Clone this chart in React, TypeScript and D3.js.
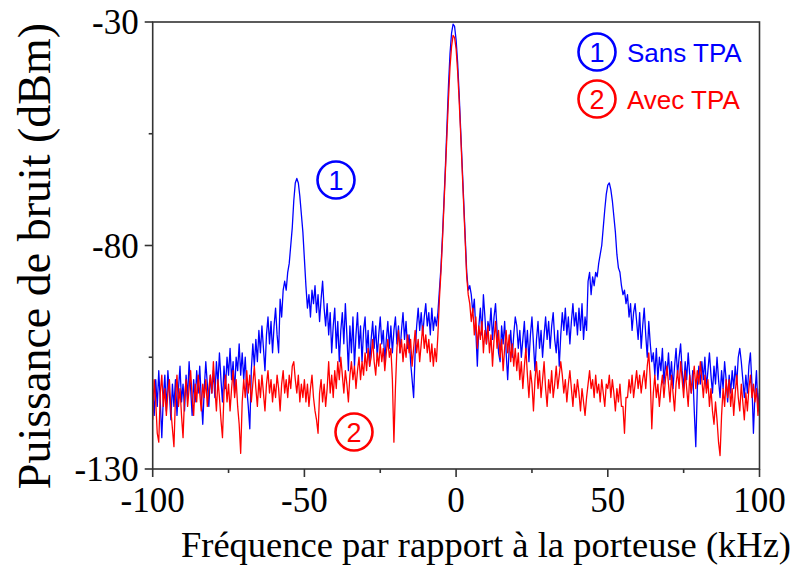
import React from "react";
import * as d3 from "d3";

// Frequency grid (kHz), 0.5 kHz step
const freqStart = -100;
const freqStep = 0.5;

// Sans TPA (blue), dBm, one value per 0.5 kHz from -100 to 100
const sansTPA: number[] = [
  -112, -118, -110, -116, -108, -115, -123, -114, -109, -117, -108, -113, -119, -111, -116, -110, -118, -112, -107, -115,
  -111, -117, -109, -114, -106, -112, -118, -110, -115, -108, -113, -107, -114, -120, -112, -106, -111, -116, -109, -113,
  -108, -114, -106, -111, -104, -110, -115, -107, -112, -105, -109, -103, -110, -106, -113, -105, -108, -102, -109, -104,
  -110, -105, -112, -116, -121, -108, -102, -107, -101, -106, -99, -104, -98, -103, -108, -100, -96, -102, -97, -104,
  -98, -94, -100, -104, -92, -96, -90, -88, -90, -86, -84, -80, -76, -70, -66, -65, -66, -69, -73, -77,
  -83, -89, -94, -91, -96, -90, -93, -89, -95, -91, -97, -92, -88, -94, -98, -93, -100, -95, -104, -98,
  -94, -103, -97, -106, -99, -95, -102, -93, -100, -108, -98, -104, -96, -107, -100, -95, -103, -98, -106, -99,
  -96, -104, -99, -107, -101, -97, -103, -98, -105, -100, -96, -102, -99, -106, -101, -97, -103, -98, -104, -99,
  -96, -102, -98, -104, -99, -95, -101, -97, -103, -100, -106, -110, -114, -104, -98, -94, -99, -95, -100, -96,
  -93, -98, -95, -100, -94, -99, -96, -98, -95, -90, -85, -78, -70, -62, -53, -44, -37, -32.5, -30.5, -31,
  -34, -39, -46, -54, -62, -70, -78, -86, -90, -89, -91, -95, -92, -99, -107, -98, -94, -100, -91, -96,
  -102, -97, -99, -94, -101, -96, -93, -99, -104, -106, -98, -102, -97, -104, -110, -103, -99, -105, -100, -96,
  -98, -103, -99, -105, -101, -97, -104, -99, -106, -100, -96, -102, -108, -101, -97, -103, -99, -105, -100, -96,
  -101, -97, -103, -98, -95, -101, -104, -99, -107, -100, -95, -99, -94, -100, -96, -102, -97, -93, -98, -95,
  -100, -94, -99, -93, -101, -96, -99, -88, -86, -91, -87, -89, -86, -87, -84, -82, -80, -76, -72, -68.5,
  -66.5, -66, -67.5, -70, -73.5, -77, -82, -85, -86, -89, -91, -90, -93, -91, -96, -93, -99, -95, -93, -97,
  -101, -95, -103, -98, -94, -100, -105, -97, -102, -106, -104, -109, -103, -110, -105, -108, -103, -111, -106, -109,
  -104, -110, -106, -112, -107, -103, -109, -105, -102, -108, -112, -106, -110, -104, -109, -113, -108, -117, -125, -112,
  -107, -111, -106, -110, -105, -112, -108, -104, -109, -113, -107, -111, -105, -110, -114, -108, -112, -106, -110, -115,
  -109, -113, -108, -112, -107, -111, -105, -103, -106, -110, -114, -109, -113, -107, -104, -111, -122, -113, -108, -117,
  -112,
];

// Avec TPA (red), dBm, same grid
const avecTPA: number[] = [
  -119, -110, -115, -122, -124, -113, -109, -116, -112, -118, -113, -110, -117, -121, -125, -114, -109, -116, -112, -118,
  -123, -114, -110, -116, -112, -108, -114, -118, -111, -115, -109, -113, -117, -111, -114, -110, -116, -112, -109, -113,
  -106, -112, -117, -110, -114, -119, -123, -113, -109, -115, -111, -117, -112, -108, -114, -110, -116, -120, -126.5, -115,
  -110, -114, -108, -113, -109, -115, -111, -107, -112, -116, -110, -114, -109, -113, -117, -111, -108, -113, -110, -115,
  -111, -114, -109, -112, -117, -111, -108, -113, -110, -114, -109, -112, -107, -106, -110, -113, -109, -115, -111, -114,
  -110, -115, -111, -116, -112, -109, -114, -117, -119, -122, -113, -110, -115, -111, -116, -112, -106, -113, -109, -114,
  -108, -112, -106, -110, -105, -109, -113, -108, -111, -115, -109, -106, -110, -107, -112, -108, -105, -110, -106, -109,
  -104, -108, -103, -107, -105, -101, -106, -109, -104, -107, -102, -106, -103, -108, -104, -101, -105, -103, -110, -124,
  -112, -103, -99, -104, -101, -106, -102, -105, -100, -104, -101, -107, -103, -99, -104, -101, -106, -102, -98, -103,
  -100, -104, -101, -106, -102, -107, -103, -106, -100, -92, -86, -79, -71, -63, -55, -47, -40, -35.5, -33, -33.5,
  -36, -41, -47.5, -55, -63, -71, -79, -87, -91, -93, -97, -94, -100, -96, -103, -98, -101, -97, -104, -99,
  -102, -98, -104, -100, -107, -101, -97, -103, -99, -105, -101, -108, -103, -99, -104, -100, -106, -102, -107, -103,
  -108, -104, -110, -106, -112, -107, -103, -109, -114, -108, -111, -117, -110, -106, -112, -108, -114, -110, -106, -112,
  -116, -110, -113, -108, -114, -111, -107, -112, -109, -106, -109, -113, -110, -115, -111, -108, -112, -116, -111, -114,
  -110, -113, -117, -112, -115, -118, -114, -111, -108, -112, -110, -114, -109, -113, -111, -115, -110, -113, -116, -111,
  -112, -109, -114, -110, -113, -117, -112, -115, -111, -116, -116, -122, -114, -114, -110, -113, -109, -114, -111, -108,
  -112, -109, -113, -110, -108, -112, -107, -104, -110, -121, -113, -109, -114, -111, -116, -112, -109, -114, -110, -107,
  -111, -115, -109, -113, -117, -111, -108, -112, -106, -110, -114, -108, -112, -116, -109, -113, -110, -107, -112, -108,
  -111, -106, -110, -114, -109, -113, -110, -116, -112, -117, -120, -115, -119, -124, -127, -118, -112, -116, -110, -114,
  -110, -116, -112, -118, -113, -109, -114, -117, -111, -115, -119, -113, -117, -112, -109, -114, -111, -115, -112, -118,
  -113,
];

const xMajorTicks = [-100, -50, 0, 50, 100];
const xMinorTicks = [-75, -25, 25, 75];
const yMajorTicks = [-130, -80, -30];
const yMinorTicks = [-105, -55];

const seriesNames = ["Sans TPA", "Avec TPA"];
const seriesColors = ["#0000ff", "#ff0000"];

const W = 793;
const H = 570;
const left = 152.7;
const right = 759.5;
const top = 22;
const bottom = 469;

const serif = "'Liberation Serif', 'Times New Roman', Times, serif";
const sans = "'Liberation Sans', Arial, Helvetica, sans-serif";

export default function App() {
  const x = d3.scaleLinear().domain([-100, 100]).range([left, right]);
  const y = d3.scaleLinear().domain([-130, -30]).range([bottom, top]);

  const toPoints = (vals: number[]) =>
    vals.map((v, i) => [freqStart + i * freqStep, v] as [number, number]);

  const line = d3
    .line<[number, number]>()
    .x((d) => x(d[0]))
    .y((d) => y(d[1]));

  const axisColor = "#333";

  const circleLabel = (cx: number, cy: number, n: string, color: string) => (
    <g>
      <circle cx={cx} cy={cy} r={18.5} fill="none" stroke={color} strokeWidth={2.6} />
      <text
        x={cx}
        y={cy + 9.5}
        textAnchor="middle"
        fontFamily={sans}
        fontSize={27}
        fill={color}
      >
        {n}
      </text>
    </g>
  );

  return (
    <svg
      width={W}
      height={H}
      style={{ position: "absolute", left: 0, top: 0, background: "#fff" }}
    >
      <rect x={0} y={0} width={W} height={H} fill="#fff" />
      <defs>
        <clipPath id="plotclip">
          <rect x={left} y={top} width={right - left} height={bottom - top} />
        </clipPath>
      </defs>

      <g clipPath="url(#plotclip)">
        <path
          d={line(toPoints(sansTPA)) || ""}
          fill="none"
          stroke={seriesColors[0]}
          strokeWidth={1.3}
          strokeLinejoin="round"
        />
        <path
          d={line(toPoints(avecTPA)) || ""}
          fill="none"
          stroke={seriesColors[1]}
          strokeWidth={1.3}
          strokeLinejoin="round"
        />
      </g>

      {/* frame */}
      <rect
        x={left}
        y={top}
        width={right - left}
        height={bottom - top}
        fill="none"
        stroke={axisColor}
        strokeWidth={1.6}
      />

      {/* x ticks */}
      {xMajorTicks.map((t) => (
        <g key={"xM" + t}>
          <line x1={x(t)} x2={x(t)} y1={bottom} y2={bottom + 8} stroke={axisColor} strokeWidth={1.6} />
          <text
            x={x(t)}
            y={512}
            textAnchor="middle"
            fontFamily={serif}
            fontSize={35}
            fill="#000"
          >
            {t < 0 ? "-" + Math.abs(t) : String(t)}
          </text>
        </g>
      ))}
      {xMinorTicks.map((t) => (
        <line key={"xm" + t} x1={x(t)} x2={x(t)} y1={bottom} y2={bottom + 4} stroke={axisColor} strokeWidth={1.6} />
      ))}

      {/* y ticks */}
      {yMajorTicks.map((t) => (
        <g key={"yM" + t}>
          <line x1={left - 8} x2={left} y1={y(t)} y2={y(t)} stroke={axisColor} strokeWidth={1.6} />
          <text
            x={left - 14}
            y={y(t) + 12}
            textAnchor="end"
            fontFamily={serif}
            fontSize={35}
            fill="#000"
          >
            {"-" + Math.abs(t)}
          </text>
        </g>
      ))}
      {yMinorTicks.map((t) => (
        <line key={"ym" + t} x1={left - 4} x2={left} y1={y(t)} y2={y(t)} stroke={axisColor} strokeWidth={1.6} />
      ))}

      {/* axis titles */}
      <text
        x={486}
        y={557}
        textAnchor="middle"
        fontFamily={serif}
        fontSize={36.5}
        fill="#000"
      >
        Fréquence par rapport à la porteuse (kHz)
      </text>
      <text
        transform={`translate(50, 256) rotate(-90)`}
        textAnchor="middle"
        fontFamily={serif}
        fontSize={46}
        fill="#000"
      >
        Puissance de bruit (dBm)
      </text>

      {/* legend */}
      {circleLabel(597, 52, "1", seriesColors[0])}
      <text x={627} y={62} fontFamily={sans} fontSize={26} fill={seriesColors[0]}>
        {seriesNames[0]}
      </text>
      {circleLabel(597, 99, "2", seriesColors[1])}
      <text x={627} y={109} fontFamily={sans} fontSize={26} fill={seriesColors[1]}>
        {seriesNames[1]}
      </text>

      {/* in-plot markers */}
      {circleLabel(336, 180, "1", seriesColors[0])}
      {circleLabel(354, 432, "2", seriesColors[1])}
    </svg>
  );
}
